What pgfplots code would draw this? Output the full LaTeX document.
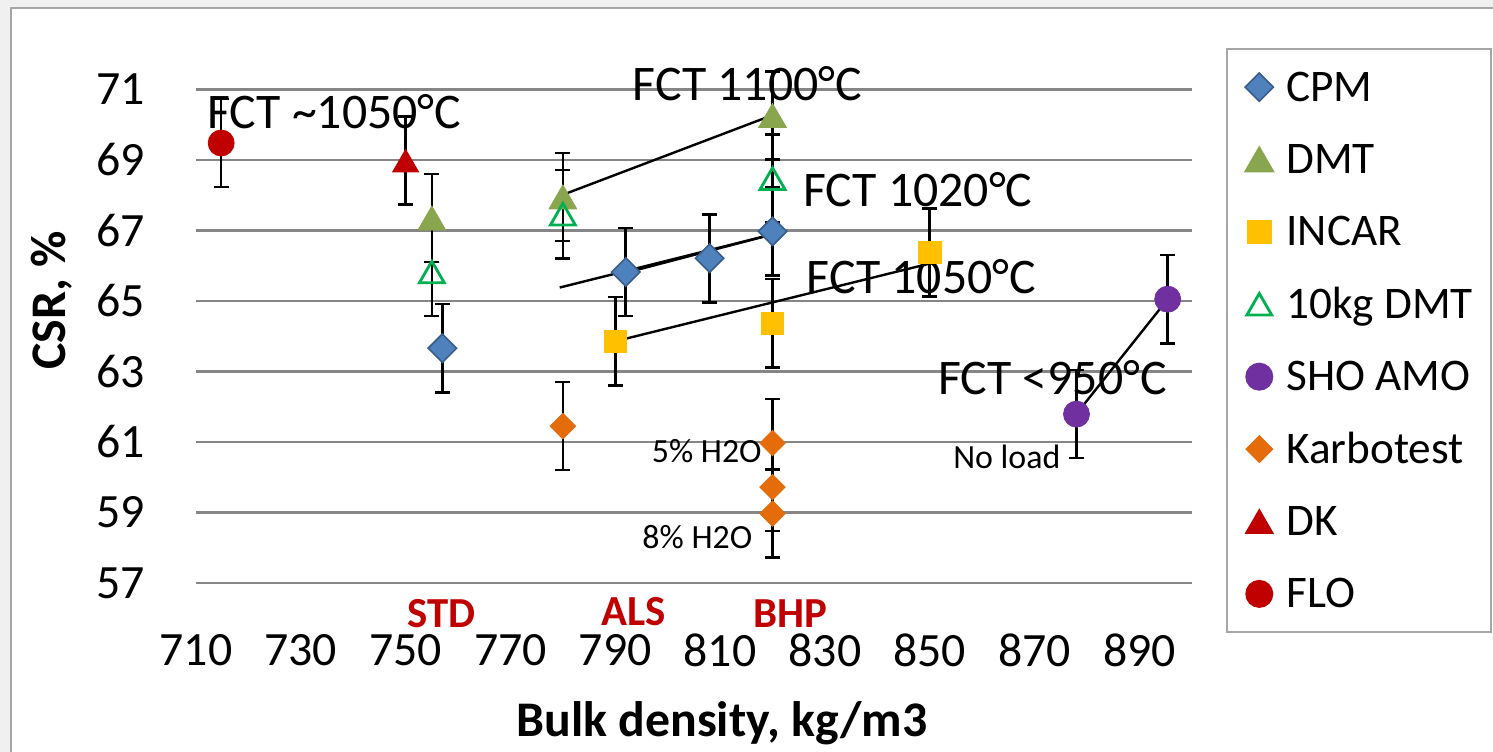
\documentclass[border=0pt]{standalone}
\usepackage{fontspec}
\setmainfont{Carlito}
\usepackage{pgfplots}
\pgfplotsset{compat=1.18}
\definecolor{cpm}{RGB}{79,129,189}
\definecolor{cpmedge}{RGB}{56,93,138}
\definecolor{dmt}{RGB}{137,165,78}
\definecolor{incar}{RGB}{255,192,0}
\definecolor{tenkg}{RGB}{0,176,80}
\definecolor{sho}{RGB}{112,48,160}
\definecolor{karbo}{RGB}{228,108,10}
\definecolor{dkred}{RGB}{192,0,0}
\definecolor{gridgray}{RGB}{134,134,134}
\definecolor{framegray}{RGB}{166,166,166}
\definecolor{outside}{RGB}{240,240,240}
\newcommand{\fs}[1]{\fontsize{#1}{#1}\selectfont}

\begin{document}
\begin{tikzpicture}
\useasboundingbox (0,0) rectangle (746.5bp,376bp);
\fill[outside] (0,0) rectangle (746.5bp,376bp);
\filldraw[fill=white, draw=framegray, line width=1bp] (5.4bp,-5bp) rectangle (760bp,371.8bp);
\begin{axis}[
  at={(98bp,84.5bp)}, anchor=south west,
  scale only axis, width=497.9bp, height=246.8bp,
  xmin=710, xmax=900, ymin=57, ymax=71,
  xtick={710,730,...,890}, ytick={57,59,...,71},
  axis line style={draw=none}, major tick length=0pt,
  ymajorgrids, grid style={gridgray, line width=1.3bp},
  clip=false,
  /pgf/number format/assume math mode=true,
  tick label style={font=\fs{24}},
  xticklabel style={anchor=center, yshift=-33.5bp, inner sep=0pt},
  yticklabel style={anchor=east, xshift=-25.5bp, inner sep=0pt},
  every axis x label/.style={at={(axis description cs:0.528,0)}, anchor=center, yshift=-70bp, font=\fs{25}\bfseries},
  every axis y label/.style={at={([xshift=-72bp]axis description cs:0,0.573)}, rotate=90, anchor=center, font=\fs{25}\bfseries},
  xlabel={Bulk density, kg/m3},
  ylabel={CSR, \%},
  legend cell align=left,
  legend style={at={(axis description cs:1.0345,1.0837)}, anchor=north west,
    draw=framegray, line width=1bp, font=\fs{22.7},
    inner xsep=9bp, inner ysep=10bp, row sep=18.2bp, column sep=6.5bp,
    nodes={inner sep=0pt, text height=16bp, text depth=2bp}},
  eb/.style={only marks,
    error bars/y dir=both, error bars/y explicit,
    error bars/error bar style={black, line width=1.3bp},
    error bars/error mark options={black, line width=1.3bp, mark size=3.75bp, rotate=90}},
]
% CPM
\addplot[eb, mark=square*, mark size=5bp, mark options={rotate=45, fill=cpm, draw=cpmedge, line width=0.8bp}]
  coordinates {(757,63.66) +- (0,1.25) (792,65.82) +- (0,1.25) (808,66.21) +- (0,1.25) (820,66.97) +- (0,1.25)};
\addlegendentry{CPM}
% DMT
\addplot[eb, mark=triangle*, mark size=8bp, mark options={fill=dmt, draw=dmt, yshift=-2bp}]
  coordinates {(755,67.35) +- (0,1.25) (780,67.95) +- (0,1.25) (820,70.26) +- (0,1.25)};
\addlegendentry{DMT}
% INCAR
\addplot[eb, mark=square*, mark size=5.6bp, mark options={fill=incar, draw=incar}]
  coordinates {(790,63.86) +- (0,1.25) (820,64.37) +- (0,1.25) (850,66.38) +- (0,1.25)};
\addlegendentry{INCAR}
% 10kg DMT
\addplot[eb, mark=triangle, mark size=7.2bp, mark options={draw=tenkg, line width=1.4bp, yshift=-1.8bp}]
  coordinates {(755,65.82) +- (0,1.25) (780,67.46) +- (0,1.25) (820,68.47) +- (0,1.25)};
\addlegendentry{10kg DMT}
% SHO AMO
\addplot[eb, mark=*, mark size=6.5bp, mark options={fill=sho, draw=sho}]
  coordinates {(878,61.79) +- (0,1.25) (895.4,65.05) +- (0,1.25)};
\addlegendentry{SHO AMO}
% Karbotest
\addplot[eb, mark=square*, mark size=4.5bp, mark options={rotate=45, fill=karbo, draw=karbo}]
  coordinates {(780,61.45) +- (0,1.25) (820,60.97) +- (0,1.25) (820,59.72) +- (0,1.25) (820,58.97) +- (0,1.25)};
\addlegendentry{Karbotest}
% DK
\addplot[eb, mark=triangle*, mark size=7.5bp, mark options={fill=dkred, draw=dkred, yshift=-1.9bp}]
  coordinates {(750,68.98) +- (0,1.25)};
\addlegendentry{DK}
% FLO
\addplot[eb, mark=*, mark size=6.5bp, mark options={fill=dkred, draw=dkred}]
  coordinates {(714.8,69.48) +- (0,1.25)};
\addlegendentry{FLO}

% trend lines
\addplot[black, line width=1.2bp, forget plot] coordinates {(779.8,68.0) (820,70.27)};
\addplot[black, line width=1.2bp, forget plot] coordinates {(779.4,65.38) (819.5,66.87)};
\addplot[black, line width=1.2bp, forget plot] coordinates {(791.8,65.79) (819.5,66.87)};
\addplot[black, line width=1.2bp, forget plot] coordinates {(790.1,63.86) (849.7,66.05)};
\addplot[black, line width=1.2bp, forget plot] coordinates {(878,61.8) (895.4,65.05)};

% annotations
\node[anchor=west, inner sep=0pt, font=\fs{25}] at (axis cs:712.1,70.38) {FCT \textasciitilde1050°C};
\node[anchor=west, inner sep=0pt, font=\fs{25}] at (axis cs:793.3,71.15) {FCT 1100°C};
\node[anchor=west, inner sep=0pt, font=\fs{25}] at (axis cs:825.8,68.17) {FCT 1020°C};
\node[anchor=west, inner sep=0pt, font=\fs{25}] at (axis cs:826.5,65.70) {FCT 1050°C};
\node[anchor=west, inner sep=0pt, font=\fs{25}] at (axis cs:851.5,62.82) {FCT <950°C};
\node[anchor=east, inner sep=0pt, font=\fs{17}] at (axis cs:875.0,60.58) {No load};
\node[anchor=east, inner sep=0pt, font=\fs{17}] at (axis cs:818.0,60.74) {5\% H2O};
\node[anchor=east, inner sep=0pt, font=\fs{17}] at (axis cs:816.2,58.31) {8\% H2O};
\node[inner sep=0pt, font=\fs{21.5}\bfseries, text=dkred] at (axis cs:756.9,56.12) {STD};
\node[inner sep=0pt, font=\fs{21.5}\bfseries, text=dkred] at (axis cs:793.5,56.2) {ALS};
\node[inner sep=0pt, font=\fs{21.5}\bfseries, text=dkred] at (axis cs:823.4,56.12) {BHP};
\end{axis}
\end{tikzpicture}
\end{document}
